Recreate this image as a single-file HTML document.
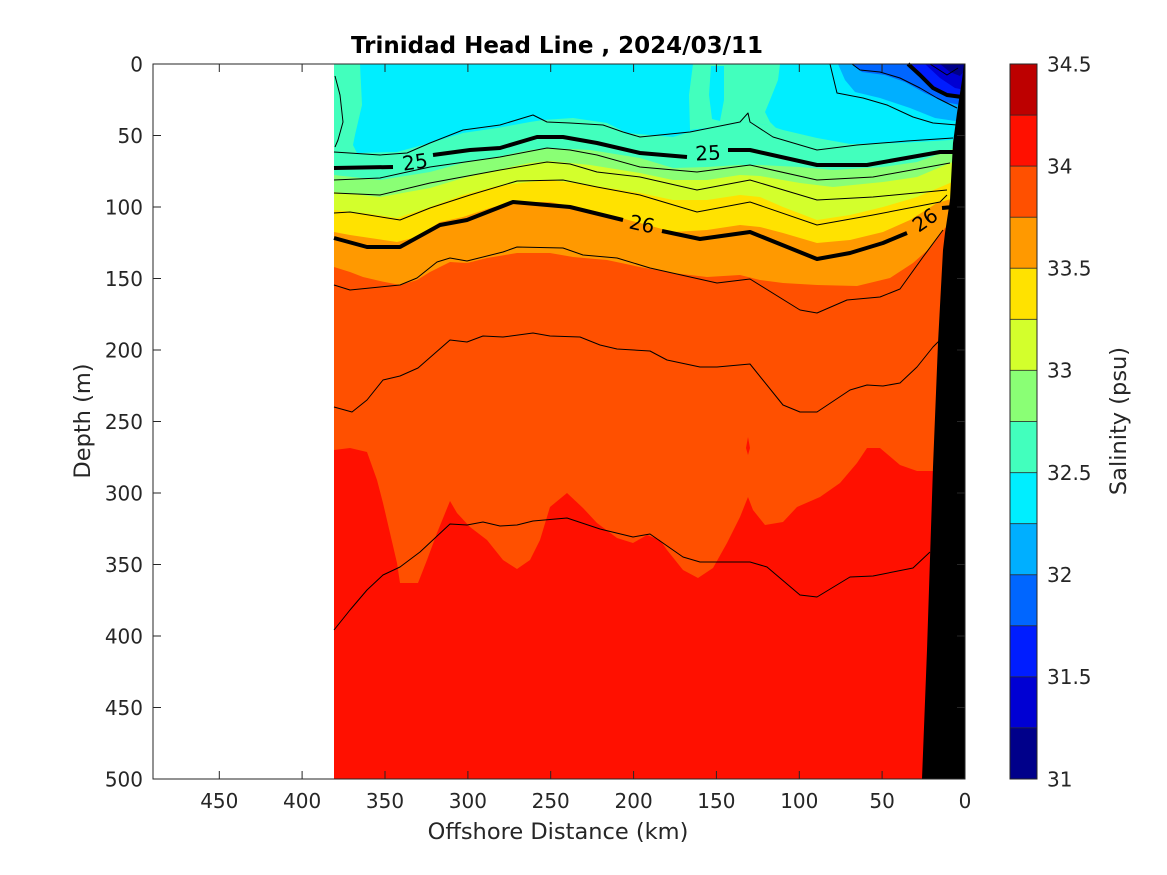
<!DOCTYPE html>
<html>
<head>
<meta charset="utf-8">
<style>
  html,body{margin:0;padding:0;background:#fff;}
  svg{display:block;}
  text{font-family:"DejaVu Sans","Liberation Sans",sans-serif;fill:#262626;}
</style>
</head>
<body>
<svg width="1167" height="875" viewBox="0 0 1167 875" xmlns="http://www.w3.org/2000/svg">
  <rect x="0" y="0" width="1167" height="875" fill="#ffffff"/>

  <!-- base red (34-34.25) -->
  <rect x="334" y="64" width="631" height="715" fill="#ff1000"/>
  <!-- dark orange 33.75-34 -->
  <polygon fill="#ff5000" points="334,64 334,450 350,448 367,452 377,480 383,503 390,533 397,563 400,583 418,583 427,560 437,533 450,501 457,513 470,527 487,540 503,560 517,569 530,560 540,540 550,507 567,493 583,508 597,523 617,538 633,543 647,535 660,540 667,550 683,570 698,578 713,568 727,543 740,517 748,497 753,510 765,525 783,522 797,507 820,497 840,483 857,463 867,448 880,448 900,465 917,471 965,471 965,64"/>
  <!-- small red blob -->
  <polygon fill="#ff1000" points="746,448 748,437 750,448 748,455"/>
  <!-- orange 33.5-33.75 -->
  <polygon fill="#ff9900" points="334,64 334,267 350,272 363,277 380,281 400,285 417,280 430,272 440,267 450,262 467,263 487,258 517,253 550,253 573,257 607,260 640,267 673,273 707,277 740,275 760,280 783,283 817,285 857,286 890,278 913,263 930,248 945,228 965,215 965,64"/>
  <!-- yellow 33.25-33.5 -->
  <polygon fill="#ffe200" points="334,64 334,232 350,235 397,242 417,237 440,222 463,217 490,208 513,202 550,202 590,210 640,223 673,232 707,230 740,225 760,227 783,233 817,243 850,240 883,232 910,220 937,203 965,195 965,64"/>
  <!-- yellow-green 33-33.25 -->
  <polygon fill="#d3ff2c" points="334,64 334,210 363,213 397,218 430,207 463,195 497,186 530,182 550,180 590,185 640,193 673,200 707,200 740,195 760,197 783,207 817,220 850,215 883,207 917,197 950,183 965,178 965,64"/>
  <!-- green 32.75-33 -->
  <polygon fill="#8aff75" points="334,64 334,192 380,197 430,188 463,178 497,170 530,163 550,161 590,165 640,173 673,180 707,180 740,175 760,176 800,183 833,187 883,182 917,177 950,163 965,158 965,64"/>
  <!-- aquamarine 32.5-32.75 -->
  <polygon fill="#42ffbd" points="334,64 334,175 380,180 430,172 463,163 497,157 530,150 550,148 590,150 640,158 673,168 707,167 740,165 760,165 800,167 833,170 883,167 917,162 950,150 965,145 965,64"/>
  <!-- cyan 32.25-32.5 -->
  <polygon fill="#00eeff" points="334,64 334,153 357,153 397,152 430,143 463,133 497,128 530,122 543,120 573,118 607,123 627,133 673,137 690,132 723,126 747,122 767,125 783,130 817,138 850,144 900,143 950,140 965,138 965,64"/>
  <!-- aquamarine patches -->
  <polygon fill="#42ffbd" points="334,64 360,64 362,105 355,135 353,145 357,153 334,153"/>
  <polygon fill="#42ffbd" points="693,64 689,95 690,130 723,126 747,122 767,125 780,132 770,122 765,112 770,100 778,80 780,64"/>
  <polygon fill="#00eeff" points="711,66 724,66 724,100 720,121 712,119 709,95"/>
  <!-- blues top right -->
  <polygon fill="#00afff" points="838,64 845,80 855,92 880,98 910,108 935,118 962,122 965,122 965,64"/>
  <polygon fill="#0066ff" points="853,64 862,72 885,75 905,82 925,93 945,102 965,106 965,64"/>
  <polygon fill="#001dff" points="906,64 917,74 930,87 946,94 965,96 965,64"/>
  <polygon fill="#0000d3" points="925,64 940,78 955,88 965,90 965,64"/>
  <polygon fill="#00008a" points="940,64 950,72 960,76 965,70 965,64"/>

  <!-- contour lines -->
  <g fill="none" stroke="#000" stroke-width="1" stroke-linejoin="round">
    <polyline points="335,76 340,95 343,122 338,140 335,147"/>
    <polyline points="334,152 380,155 407,153 430,143 463,130 500,125 533,115 547,122 570,123 603,125 623,132 640,137 690,132 740,122 748,113 750,122 773,137 817,150 857,145 907,141 953,138"/>
    <polyline points="334,180 380,178 430,167 500,157 547,148 570,150 597,155 640,167 697,172 750,165 817,180 873,177 950,163"/>
    <polyline points="334,193 380,195 430,183 500,170 547,162 570,164 597,172 640,177 697,190 750,180 817,200 873,197 947,190"/>
    <polyline points="334,213 350,212 400,220 430,208 470,195 517,181 563,180 597,187 640,195 697,212 750,202 817,225 873,215 940,202 947,195"/>
    <polyline points="334,285 350,290 380,287 400,285 417,278 437,262 450,258 467,261 503,252 517,247 563,248 583,255 617,258 650,268 717,283 750,279 800,310 817,313 847,300 880,297 900,289 923,257 943,230"/>
    <polyline points="334,407 352,412 367,400 383,380 400,376 418,368 450,340 467,342 483,336 503,337 533,333 550,336 580,337 600,345 617,349 650,351 667,360 700,367 717,367 750,364 783,405 800,412 817,412 850,390 867,385 883,386 900,383 917,367 933,347 940,340"/>
    <polyline points="334,630 350,610 367,590 383,575 400,567 420,552 450,524 467,525 483,522 500,526 517,525 533,521 567,518 600,529 633,537 650,534 683,557 700,562 750,562 767,567 800,595 817,597 850,577 873,576 913,568 930,552"/>
    <polyline points="830,64 837,93 863,98 887,105 913,117 933,123 957,125"/>
    <polyline points="852,64 860,70 880,72 900,78 920,88 937,98 957,108"/>
    <polyline points="930,64 947,75 958,68"/>
    <polyline points="882,64 882,72"/>
  </g>
  <g fill="none" stroke="#000" stroke-width="4" stroke-linejoin="round">
    <polyline points="334,168 393,167"/>
    <polyline points="433,155 470,150 500,148 537,137 563,137 597,143 640,153 687,157"/>
    <polyline points="728,150 750,150 817,165 867,165 940,152 953,152"/>
    <polyline points="334,238 367,247 400,247 440,225 467,220 513,202 570,207 623,220"/>
    <polyline points="662,231 700,239 750,232 817,259 850,253 883,243 907,233"/>
    <polyline points="942,208 953,207"/>
    <polyline points="908,64 920,75 933,88 947,95 962,97"/>
  </g>
  <!-- contour labels -->
  <g font-size="20" fill="#000">
    <text x="415" y="169" text-anchor="middle" transform="rotate(-8 415 162)" style="fill:#000">25</text>
    <text x="708" y="160" text-anchor="middle" transform="rotate(-3 708 153)" style="fill:#000">25</text>
    <text x="642" y="231" text-anchor="middle" transform="rotate(12 642 224)" style="fill:#000">26</text>
    <text x="925" y="227" text-anchor="middle" transform="rotate(-35 925 220)" style="fill:#000">26</text>
  </g>

  <!-- bathymetry wall -->
  <polygon fill="#000" points="964,64 962,80 957,113 953,143 950,200 945,233 943,250 938,343 933,467 927,650 922,779 965,779 965,64"/>

  <!-- axes box -->
  <rect x="153" y="64" width="812" height="715" fill="none" stroke="#262626" stroke-width="1"/>
  <!-- ticks -->
  <g stroke="#262626" stroke-width="1">
    <line x1="219.3" y1="779" x2="219.3" y2="771"/><line x1="219.3" y1="64" x2="219.3" y2="72"/>
    <line x1="302.1" y1="779" x2="302.1" y2="771"/><line x1="302.1" y1="64" x2="302.1" y2="72"/>
    <line x1="385" y1="779" x2="385" y2="771"/><line x1="385" y1="64" x2="385" y2="72"/>
    <line x1="467.9" y1="779" x2="467.9" y2="771"/><line x1="467.9" y1="64" x2="467.9" y2="72"/>
    <line x1="550.7" y1="779" x2="550.7" y2="771"/><line x1="550.7" y1="64" x2="550.7" y2="72"/>
    <line x1="633.6" y1="779" x2="633.6" y2="771"/><line x1="633.6" y1="64" x2="633.6" y2="72"/>
    <line x1="716.4" y1="779" x2="716.4" y2="771"/><line x1="716.4" y1="64" x2="716.4" y2="72"/>
    <line x1="799.3" y1="779" x2="799.3" y2="771"/><line x1="799.3" y1="64" x2="799.3" y2="72"/>
    <line x1="882.1" y1="779" x2="882.1" y2="771"/><line x1="882.1" y1="64" x2="882.1" y2="72"/>
    <line x1="153" y1="135.5" x2="161" y2="135.5"/><line x1="965" y1="135.5" x2="957" y2="135.5"/>
    <line x1="153" y1="207" x2="161" y2="207"/><line x1="965" y1="207" x2="957" y2="207"/>
    <line x1="153" y1="278.5" x2="161" y2="278.5"/><line x1="965" y1="278.5" x2="957" y2="278.5"/>
    <line x1="153" y1="350" x2="161" y2="350"/><line x1="965" y1="350" x2="957" y2="350"/>
    <line x1="153" y1="421.5" x2="161" y2="421.5"/><line x1="965" y1="421.5" x2="957" y2="421.5"/>
    <line x1="153" y1="493" x2="161" y2="493"/><line x1="965" y1="493" x2="957" y2="493"/>
    <line x1="153" y1="564.5" x2="161" y2="564.5"/><line x1="965" y1="564.5" x2="957" y2="564.5"/>
    <line x1="153" y1="636" x2="161" y2="636"/><line x1="965" y1="636" x2="957" y2="636"/>
    <line x1="153" y1="707.5" x2="161" y2="707.5"/><line x1="965" y1="707.5" x2="957" y2="707.5"/>
  </g>

  <!-- x tick labels -->
  <g font-size="20" text-anchor="middle">
    <text x="219.3" y="808">450</text>
    <text x="302.1" y="808">400</text>
    <text x="385" y="808">350</text>
    <text x="467.9" y="808">300</text>
    <text x="550.7" y="808">250</text>
    <text x="633.6" y="808">200</text>
    <text x="716.4" y="808">150</text>
    <text x="799.3" y="808">100</text>
    <text x="882.1" y="808">50</text>
    <text x="965" y="808">0</text>
  </g>
  <!-- y tick labels -->
  <g font-size="20" text-anchor="end">
    <text x="143" y="71.3">0</text>
    <text x="143" y="142.8">50</text>
    <text x="143" y="214.3">100</text>
    <text x="143" y="285.8">150</text>
    <text x="143" y="357.3">200</text>
    <text x="143" y="428.8">250</text>
    <text x="143" y="500.3">300</text>
    <text x="143" y="571.8">350</text>
    <text x="143" y="643.3">400</text>
    <text x="143" y="714.8">450</text>
    <text x="143" y="786.3">500</text>
  </g>

  <!-- axis labels and title -->
  <text x="558" y="839" font-size="22.5" text-anchor="middle">Offshore Distance (km)</text>
  <text x="90" y="421" font-size="22.5" text-anchor="middle" transform="rotate(-90 90 421)">Depth (m)</text>
  <text x="557" y="53" font-size="23" font-weight="bold" text-anchor="middle" style="fill:#000">Trinidad Head Line , 2024/03/11</text>

  <!-- colorbar -->
  <g>
    <rect x="1010" y="64" width="27" height="51.07" fill="#bd0000"/>
    <rect x="1010" y="115.07" width="27" height="51.07" fill="#ff1000"/>
    <rect x="1010" y="166.14" width="27" height="51.07" fill="#ff5000"/>
    <rect x="1010" y="217.21" width="27" height="51.07" fill="#ff9900"/>
    <rect x="1010" y="268.29" width="27" height="51.07" fill="#ffe200"/>
    <rect x="1010" y="319.36" width="27" height="51.07" fill="#d3ff2c"/>
    <rect x="1010" y="370.43" width="27" height="51.07" fill="#8aff75"/>
    <rect x="1010" y="421.5" width="27" height="51.07" fill="#42ffbd"/>
    <rect x="1010" y="472.57" width="27" height="51.07" fill="#00eeff"/>
    <rect x="1010" y="523.64" width="27" height="51.07" fill="#00afff"/>
    <rect x="1010" y="574.71" width="27" height="51.07" fill="#0066ff"/>
    <rect x="1010" y="625.79" width="27" height="51.07" fill="#001dff"/>
    <rect x="1010" y="676.86" width="27" height="51.07" fill="#0000d3"/>
    <rect x="1010" y="727.93" width="27" height="51.07" fill="#00008a"/>
  </g>
  <g stroke="#262626" stroke-width="1" opacity="0.8">
    <line x1="1010" y1="115.07" x2="1037" y2="115.07"/>
    <line x1="1010" y1="166.14" x2="1037" y2="166.14"/>
    <line x1="1010" y1="217.21" x2="1037" y2="217.21"/>
    <line x1="1010" y1="268.29" x2="1037" y2="268.29"/>
    <line x1="1010" y1="319.36" x2="1037" y2="319.36"/>
    <line x1="1010" y1="370.43" x2="1037" y2="370.43"/>
    <line x1="1010" y1="421.5" x2="1037" y2="421.5"/>
    <line x1="1010" y1="472.57" x2="1037" y2="472.57"/>
    <line x1="1010" y1="523.64" x2="1037" y2="523.64"/>
    <line x1="1010" y1="574.71" x2="1037" y2="574.71"/>
    <line x1="1010" y1="625.79" x2="1037" y2="625.79"/>
    <line x1="1010" y1="676.86" x2="1037" y2="676.86"/>
    <line x1="1010" y1="727.93" x2="1037" y2="727.93"/>
  </g>
  <rect x="1010" y="64" width="27" height="715" fill="none" stroke="#262626" stroke-width="1"/>
  <g font-size="20" text-anchor="start">
    <text x="1047" y="71.3">34.5</text>
    <text x="1047" y="173.4">34</text>
    <text x="1047" y="275.6">33.5</text>
    <text x="1047" y="377.7">33</text>
    <text x="1047" y="479.9">32.5</text>
    <text x="1047" y="582">32</text>
    <text x="1047" y="684.2">31.5</text>
    <text x="1047" y="786.3">31</text>
  </g>
  <text x="1126" y="421" font-size="22.5" text-anchor="middle" transform="rotate(-90 1126 421)">Salinity (psu)</text>
</svg>
</body>
</html>
